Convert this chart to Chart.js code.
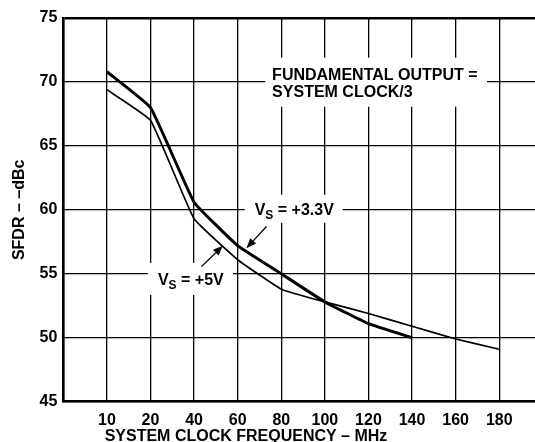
<!DOCTYPE html>
<html>
<head>
<meta charset="utf-8">
<script src="https://cdn.jsdelivr.net/npm/chart.js@4"></script>
<style>
  html, body { margin: 0; padding: 0; background: #fff; overflow: hidden; }
  #chartContainer { width: 535px; height: 442px; }
</style>
</head>
<body>
<div id="chartContainer"><canvas id="grafico"></canvas></div>
<script>
// categorias del eje x (la primera posicion queda vacia)
var categorias = ['', '10', '20', '40', '60', '80', '100', '120', '140', '160', '180'];
// SFDR en dBc
var vs33 = [null, 70.8, 68.0, 60.6, 57.2, 55.0, 52.8, 51.1, 50.0];
var vs5 = [null, 69.4, 67.0, 59.3, 56.1, 53.8, 52.8, 51.9, 50.9, 49.9, 49.1];
var ticksY = [45, 50, 55, 60, 65, 70, 75];

var fuente = "'Liberation Sans', Arial, sans-serif";

function puntos(serie) {
  var res = [];
  serie.forEach(function (v, i) {
    if (v !== null) res.push({ x: i, y: v });
  });
  return res;
}

// cajas blancas con texto y flechas
var notas = {
  id: 'notas',
  beforeDatasetsDraw: function (chart) {
    var c = chart.ctx, x = chart.scales.x, y = chart.scales.y;
    c.save();
    c.fillStyle = '#fff';
    function caja(x0, x1, y0, y1) {
      var px0 = x.getPixelForValue(x0), px1 = x.getPixelForValue(x1);
      var py0 = y.getPixelForValue(y0), py1 = y.getPixelForValue(y1);
      c.fillRect(px0, py0, px1 - px0, py1 - py0);
    }
    caja(4.63, 9.72, 71.9, 68.06);
    caja(4.16, 6.41, 61.18, 58.99);
    caja(1.94, 3.89, 55.85, 53.35);
    c.restore();
  },
  afterDatasetsDraw: function (chart) {
    var c = chart.ctx, x = chart.scales.x, y = chart.scales.y;
    c.save();
    c.fillStyle = '#000';
    c.strokeStyle = '#000';
    c.textBaseline = 'alphabetic';
    c.textAlign = 'left';
    c.font = 'bold 16px ' + fuente;
    var fx = x.getPixelForValue(4.79), fy = y.getPixelForValue(70.17);
    c.fillText('FUNDAMENTAL OUTPUT =', fx, fy);
    c.fillText('SYSTEM CLOCK/3', fx, fy + 17.7);

    function etiqueta(xv, yv, resto) {
      var px = x.getPixelForValue(xv), py = y.getPixelForValue(yv);
      c.font = 'bold 16px ' + fuente;
      c.fillText('V', px, py);
      var w = c.measureText('V').width;
      c.font = 'bold 12px ' + fuente;
      c.fillText('S', px + w, py + 4);
      var w2 = c.measureText('S').width;
      c.font = 'bold 16px ' + fuente;
      c.fillText(resto, px + w + w2, py);
    }
    etiqueta(4.39, 59.6, ' = +3.3V');
    etiqueta(2.17, 54.14, ' = +5V');

    function flecha(x0, y0, x1, y1) {
      var ax = x.getPixelForValue(x0), ay = y.getPixelForValue(y0);
      var bx = x.getPixelForValue(x1), by = y.getPixelForValue(y1);
      var ang = Math.atan2(by - ay, bx - ax);
      var largo = 10, ancho = 4;
      var cx = bx - largo * Math.cos(ang), cy = by - largo * Math.sin(ang);
      c.lineWidth = 1.3;
      c.beginPath();
      c.moveTo(ax, ay);
      c.lineTo(cx, cy);
      c.stroke();
      c.beginPath();
      c.moveTo(bx, by);
      c.lineTo(cx + ancho * Math.sin(ang), cy - ancho * Math.cos(ang));
      c.lineTo(cx - ancho * Math.sin(ang), cy + ancho * Math.cos(ang));
      c.closePath();
      c.fill();
    }
    flecha(4.66, 58.7, 4.2, 57.0);
    flecha(3.17, 55.56, 3.66, 57.2);

    // titulo del eje x
    c.font = 'bold 16px ' + fuente;
    c.textAlign = 'center';
    c.fillText('SYSTEM CLOCK FREQUENCY \u2013 MHz', 246, 441);
    c.restore();
  }
};

var ctx = document.getElementById('grafico').getContext('2d');
var miGrafico = new Chart(ctx, {
  type: 'line',
  data: {
    datasets: [
      {
        label: 'VS = +3.3V',
        data: puntos(vs33),
        borderColor: '#000',
        borderWidth: 3,
        pointRadius: 0,
        tension: 0.1
      },
      {
        label: 'VS = +5V',
        data: puntos(vs5),
        borderColor: '#000',
        borderWidth: 1.7,
        pointRadius: 0,
        tension: 0.1
      }
    ]
  },
  options: {
    responsive: true,
    maintainAspectRatio: false,
    animation: false,
    layout: { padding: { top: 18, right: 0, left: 0, bottom: 0 } },
    plugins: { legend: { display: false }, tooltip: { enabled: false } },
    scales: {
      x: {
        type: 'linear',
        min: 0,
        max: 10.82,
        afterFit: function (s) { s.height = 40.3; },
        border: { display: true, color: '#000', width: 2.5 },
        grid: { color: '#000', lineWidth: 1.3, drawTicks: false },
        ticks: {
          stepSize: 1,
          includeBounds: false,
          autoSkip: false,
          maxRotation: 0,
          padding: 9,
          color: '#000',
          font: { family: fuente, size: 16, weight: 'bold' },
          callback: function (v) { return Number.isInteger(v) ? categorias[v] : ''; }
        }
      },
      y: {
        min: ticksY[0],
        max: ticksY[ticksY.length - 1],
        afterFit: function (s) { s.width = 63.3; },
        afterBuildTicks: function (s) { s.ticks = ticksY.map(function (v) { return { value: v }; }); },
        border: { display: true, color: '#000', width: 2.5 },
        grid: {
          color: '#000',
          drawTicks: false,
          lineWidth: function (c) { return c.tick && c.tick.value === 75 ? 2.5 : 1.3; }
        },
        ticks: {
          padding: 6,
          color: '#000',
          font: { family: fuente, size: 16, weight: 'bold' }
        },
        title: {
          display: true,
          text: 'SFDR \u2013 \u2013dBc',
          color: '#000',
          padding: { top: 10, bottom: 0 },
          font: { family: fuente, size: 16, weight: 'bold' }
        }
      }
    }
  },
  plugins: [notas]
});
</script>
</body>
</html>
